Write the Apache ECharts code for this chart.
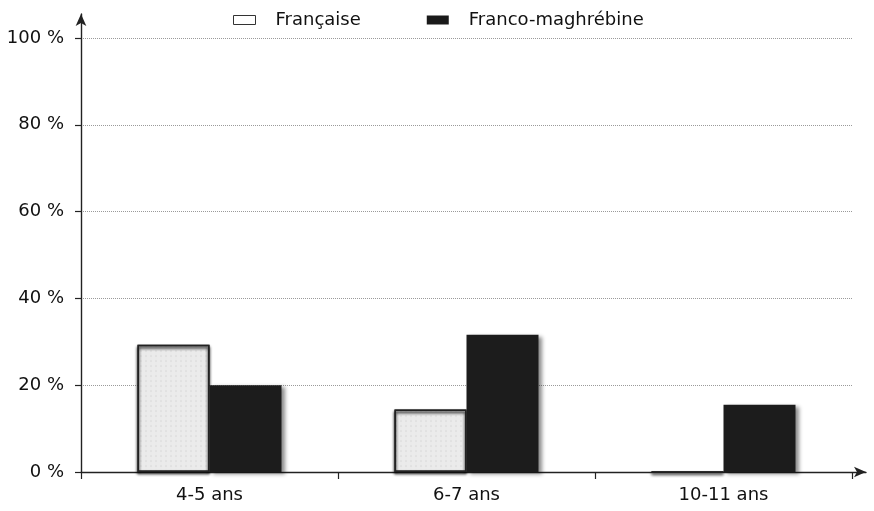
<!DOCTYPE html>
<html>
<head>
<meta charset="utf-8">
<script src="https://cdn.jsdelivr.net/npm/echarts@6/dist/echarts.min.js"></script>
<style>html,body{margin:0;padding:0;background:#fff}#c{width:874px;height:511px}</style>
</head>
<body>
<div id="c"></div>
<script>
var categories = ['4-5 ans', '6-7 ans', '10-11 ans'];
var francaise = [29.3, 14.4, 0];
var francoMaghrebine = [20, 31.6, 15.5];
var yTicks = [0, 20, 40, 60, 80, 100];

var chart = echarts.init(document.getElementById('c'));
var font = 'DejaVu Sans';
chart.setOption({
  animation: false,
  backgroundColor: '#fff',
  textStyle: { fontFamily: font },
  legend: {
    left: 228, top: 6,
    itemWidth: 22, itemHeight: 9, itemGap: 66,
    icon: 'rect',
    textStyle: { fontFamily: font, fontSize: 18, color: '#111', padding: [0, 0, 0, 15] },
    data: [
      { name: 'Française', itemStyle: { color: '#fff', borderColor: '#333', borderWidth: 1, decal: 'none' } },
      { name: 'Franco-maghrébine', itemStyle: { color: '#1a1a1a' } }
    ]
  },
  grid: [
    { left: 81, right: 22, top: 38, bottom: 39 },
    { left: 81, right: 8, top: 14, bottom: 39 }
  ],
  xAxis: [
    {
      type: 'category', gridIndex: 0, data: categories,
      axisLine: { show: false },
      axisTick: { show: true, length: 7, lineStyle: { color: '#222', width: 1.2 } },
      axisLabel: { fontFamily: font, fontSize: 18, color: '#111', margin: 14 },
      splitLine: { show: false }
    },
    {
      type: 'value', gridIndex: 1, min: 0, max: 1,
      axisLine: { show: true, symbol: ['none', 'arrow'], symbolSize: [8, 12], lineStyle: { color: '#222', width: 1.4 } },
      axisTick: { show: false }, axisLabel: { show: false }, splitLine: { show: false }
    }
  ],
  yAxis: [
    {
      type: 'value', gridIndex: 0, min: 0, max: 100, interval: 20,
      axisLine: { show: false },
      axisTick: { show: true, length: 6, lineStyle: { color: '#222', width: 1.2 } },
      axisLabel: { fontFamily: font, fontSize: 18, color: '#111', margin: 17,
        formatter: function (v) { return v + ' %'; } },
      splitLine: { show: true, lineStyle: { color: '#9a9a9a', type: 'dotted', width: 1 } }
    },
    {
      type: 'value', gridIndex: 1, min: 0, max: 1,
      axisLine: { show: true, symbol: ['none', 'arrow'], symbolSize: [8, 12], lineStyle: { color: '#222', width: 1.4 } },
      axisTick: { show: false }, axisLabel: { show: false }, splitLine: { show: false }
    }
  ],
  series: [
    {
      name: 'Française', type: 'bar', xAxisIndex: 0, yAxisIndex: 0,
      data: francaise, barWidth: 72, barGap: '0%',
      itemStyle: {
        color: '#ececec', borderColor: '#222', borderWidth: 1.5,
        shadowColor: 'rgba(0,0,0,0.25)', shadowBlur: 3, shadowOffsetY: 2,
        decal: { symbol: 'rect', symbolSize: 0.4, color: 'rgba(0,0,0,0.18)', dashArrayX: [2, 3], dashArrayY: [2, 3] }
      }
    },
    {
      name: 'Franco-maghrébine', type: 'bar', xAxisIndex: 0, yAxisIndex: 0,
      data: francoMaghrebine, barWidth: 72, barGap: '0%',
      itemStyle: {
        color: '#1c1c1c',
        shadowColor: 'rgba(0,0,0,0.45)', shadowBlur: 4, shadowOffsetX: 3, shadowOffsetY: 2
      }
    }
  ]
});
</script>
</body>
</html>
